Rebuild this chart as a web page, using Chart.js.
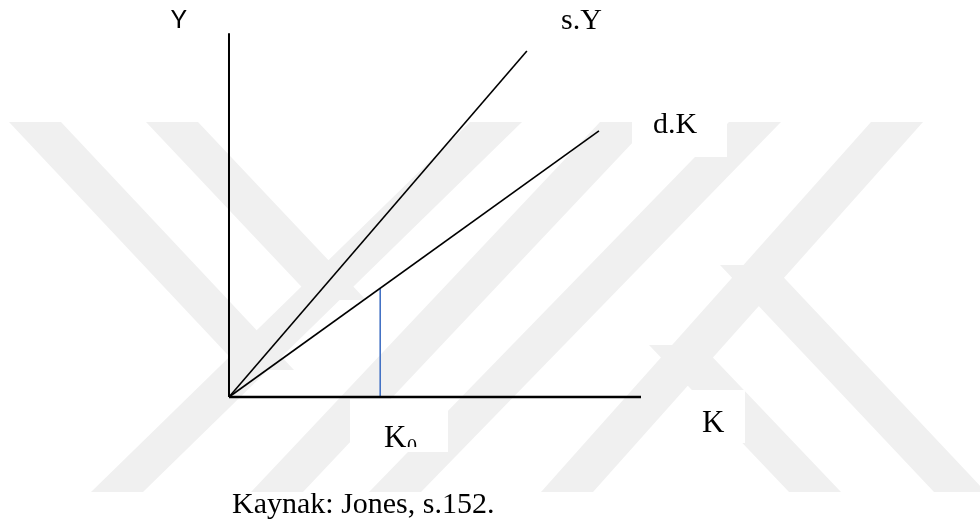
<!DOCTYPE html>
<html>
<head>
<meta charset="utf-8">
<script src="https://cdn.jsdelivr.net/npm/chart.js@4.4.1/dist/chart.umd.min.js"></script>
<style>
  html, body { margin: 0; padding: 0; background: #fff; }
  #wrap { width: 980px; height: 525px; }
</style>
</head>
<body>
<div id="wrap"><canvas id="chart" width="980" height="525"></canvas></div>
<script>
// diagram units: K along the bottom, Y up the side
const kAxis = [0, 10];
const yAxis = [0, 8.83];
const savingK = [0, 7.23];      // s.Y
const savingY = [0, 8.40];
const deprK = [0, 8.98];        // d.K
const deprY = [0, 6.46];
const k0 = [3.67, 3.67];
const k0Y = [0, 2.64];

// 41.2 px per unit, origin sits at (229, 397) on the page
const X_MIN = -5.558, X_MAX = 18.228;
const Y_MIN = -3.107, Y_MAX = 9.636;

const pts = (xs, ys) => xs.map((x, i) => ({ x: x, y: ys[i] }));

// faint thesis watermark behind the figure (page pixels)
const bands = [
    [35, 122, 268, 370],
    [172, 122, 340, 300],
    [117, 492, 496, 122],
    [277, 492, 626, 122],
    [395, 492, 755, 122],
    [567, 492, 897, 122],
    [746, 265, 960, 492],
    [675, 345, 815, 492]
];
const whiteBoxes = [
    [632, 95, 95, 62],
    [690, 390, 55, 53],
    [350, 399, 98, 53]
];

const backdrop = {
    id: 'backdrop',
    beforeDatasetsDraw(chart) {
        const c = chart.ctx;
        c.save();
        c.fillStyle = '#f0f0f0';
        const hw = 26;
        bands.forEach(b => {
            c.beginPath();
            c.moveTo(b[0] - hw, b[1]);
            c.lineTo(b[0] + hw, b[1]);
            c.lineTo(b[2] + hw, b[3]);
            c.lineTo(b[2] - hw, b[3]);
            c.closePath();
            c.fill();
        });
        c.fillStyle = '#ffffff';
        whiteBoxes.forEach(r => c.fillRect(r[0], r[1], r[2], r[3]));
        c.restore();
    }
};

const labels = {
    id: 'labels',
    afterDatasetsDraw(chart) {
        const c = chart.ctx;
        c.save();
        c.fillStyle = '#000';
        c.textBaseline = 'alphabetic';
        c.textAlign = 'left';
        c.font = '25px Lato';
        c.fillText('Y', 171, 28);
        c.font = '30px "Liberation Serif"';
        c.fillText('s.Y', 561, 29);
        c.fillText('d.K', 653, 133);
        c.font = '31px "Liberation Serif"';
        c.fillText('K', 702, 432);
        c.font = '30px "Liberation Serif"';
        c.fillText('Kaynak: Jones, s.152.', 232, 513);
        // K0, bottom of the subscript is cut off by its text box
        c.save();
        c.beginPath();
        c.rect(350, 399, 98, 48);
        c.clip();
        c.font = '31px "Liberation Serif"';
        c.fillText('K', 384, 447);
        c.font = '20px "Liberation Serif"';
        c.fillText('0', 407, 453);
        c.restore();
        c.restore();
    }
};

const line = (data, color, width) => ({
    data: data,
    showLine: true,
    borderColor: color,
    borderWidth: width,
    pointRadius: 0,
    fill: false
});

new Chart(document.getElementById('chart'), {
    type: 'scatter',
    data: {
        datasets: [
            line(pts([0, 0], yAxis), '#000', 2),
            line(pts(kAxis, [0, 0]), '#000', 2.5),
            line(pts(savingK, savingY), '#000', 1.6),
            line(pts(deprK, deprY), '#000', 1.6),
            line(pts(k0, k0Y), '#4472c4', 1.6)
        ]
    },
    options: {
        responsive: false,
        animation: false,
        devicePixelRatio: 1,
        layout: { padding: 0 },
        plugins: {
            legend: { display: false },
            tooltip: { enabled: false }
        },
        scales: {
            x: { type: 'linear', display: false, min: X_MIN, max: X_MAX },
            y: { type: 'linear', display: false, min: Y_MIN, max: Y_MAX }
        }
    },
    plugins: [backdrop, labels]
});
</script>
</body>
</html>
